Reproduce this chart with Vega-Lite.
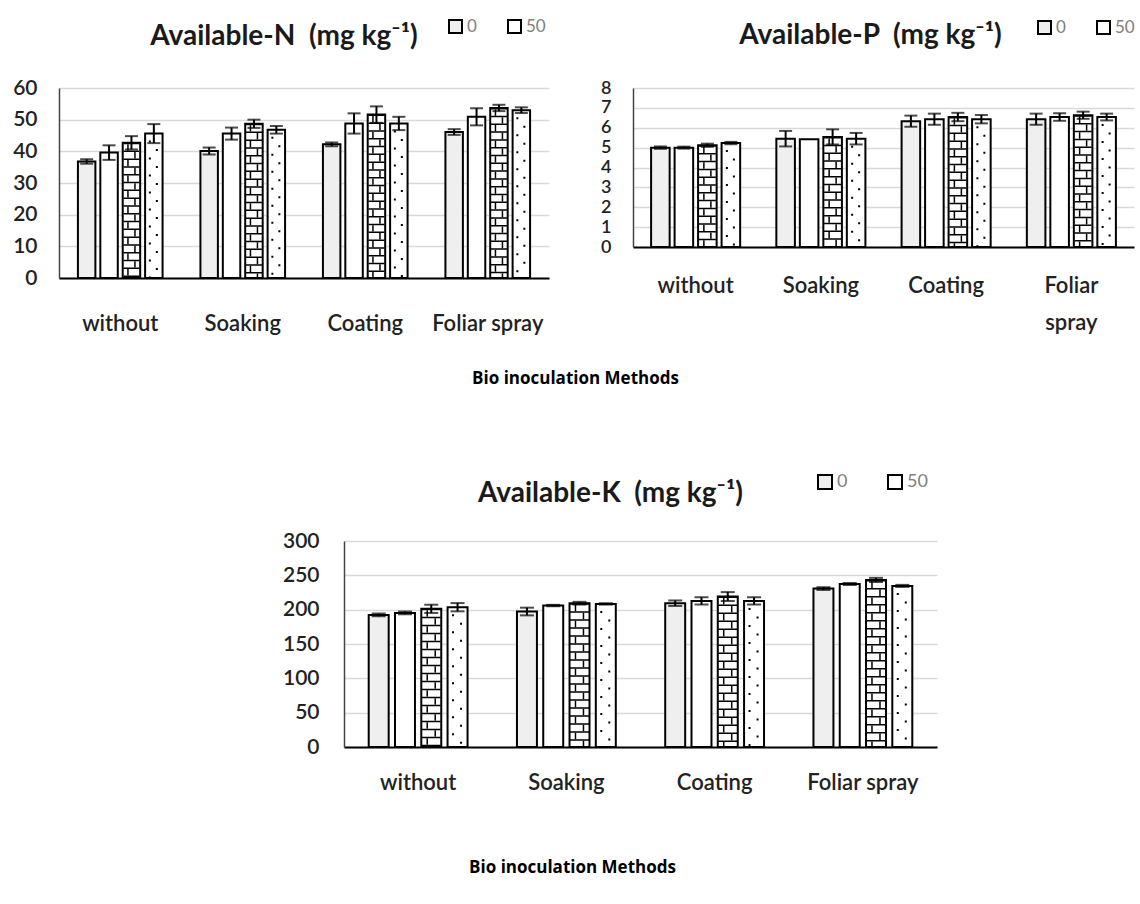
{
  "$schema": "https://vega.github.io/schema/vega-lite/v6.json",
  "background": "white",
  "padding": {"left": 12, "top": 18, "right": 0, "bottom": 30},
  "spacing": 453,
  "bounds": "flush",
  "config": {
    "view": {"stroke": null},
    "font": "Lato",
    "title": {"font": "Lato", "fontSize": 28, "fontWeight": "bold", "color": "#1a1a1a", "anchor": "middle"},
    "axis": {"labelFont": "Lato", "labelColor": "#222222", "labelFontWeight": 600, "ticks": false, "gridColor": "#d9d9d9", "gridWidth": 1.5, "labelOverlap": false, "labelFontSize": 21},
    "axisX": {"grid": false, "labelAngle": 0, "domainWidth": 2.2, "domainColor": "#000000", "labelBaseline": "top", "labelFontSize": 22, "labelLimit": 400,
      "titleFont": "Open Sans", "titleFontSize": 17, "titleFontWeight": "bold", "titleColor": "#000000", "titleBaseline": "middle", "titleAlign": "center"},
    "axisY": {"grid": true, "domainWidth": 1.5, "domainColor": "#444444", "labelBaseline": "middle"},
    "legend": {"orient": "none", "direction": "horizontal", "symbolType": "square", "symbolStrokeColor": "black", "symbolStrokeWidth": 2,
      "labelColor": "#808080", "labelFont": "Lato", "labelOffset": 3, "padding": 0}
  },
  "resolve": {"scale": {"fill": "independent", "x": "independent", "y": "independent", "xOffset": "independent"}, "legend": {"fill": "independent"}},
  "vconcat": [
    {
      "hconcat": [
        {
          "width": 490, "height": 190,
          "title": {"text": "Available-N\u00a0 (mg kg⁻¹)", "dx": -20, "offset": -33},
          "data": {"values": [
            {"method": "without", "treatment": "0", "value": 36.8, "err": 0.7},
            {"method": "without", "treatment": "50", "value": 39.6, "err": 2.3},
            {"method": "without", "treatment": "75", "value": 42.7, "err": 2.1},
            {"method": "without", "treatment": "100", "value": 45.6, "err": 3.0},
            {"method": "Soaking", "treatment": "0", "value": 40.1, "err": 1.1},
            {"method": "Soaking", "treatment": "50", "value": 45.6, "err": 1.9},
            {"method": "Soaking", "treatment": "75", "value": 48.7, "err": 1.3},
            {"method": "Soaking", "treatment": "100", "value": 46.8, "err": 1.2},
            {"method": "Coating", "treatment": "0", "value": 42.2, "err": 0.6},
            {"method": "Coating", "treatment": "50", "value": 48.8, "err": 3.2},
            {"method": "Coating", "treatment": "75", "value": 51.6, "err": 2.6},
            {"method": "Coating", "treatment": "100", "value": 48.8, "err": 2.1},
            {"method": "Foliar spray", "treatment": "0", "value": 46.1, "err": 0.9},
            {"method": "Foliar spray", "treatment": "50", "value": 50.9, "err": 2.7},
            {"method": "Foliar spray", "treatment": "75", "value": 53.7, "err": 1.0},
            {"method": "Foliar spray", "treatment": "100", "value": 53.0, "err": 0.9}
          ]},
          "encoding": {
            "x": {"field": "method", "type": "nominal", "sort": ["without", "Soaking", "Coating", "Foliar spray"],
              "scale": {"type": "band", "paddingInner": 0, "paddingOuter": 0},
              "axis": {"title": "Bio inoculation Methods", "titleX": 516, "titleY": 100, "labelPadding": 35}},
            "y": {"field": "value", "type": "quantitative", "title": null, "scale": {"domain": [0, 60]},
              "axis": {"values": [0, 10, 20, 30, 40, 50, 60], "labelPadding": 22}}
          },
          "layer": [
            {"mark": {"type": "bar", "stroke": "black", "strokeWidth": 2},
              "encoding": {
                "xOffset": {"field": "treatment", "type": "nominal", "sort": ["0", "50", "75", "100"],
                  "scale": {"domain": ["0", "50", "75", "100"], "paddingInner": 0.22, "paddingOuter": 0.845}},
                "fill": {"field": "treatment", "type": "nominal", "sort": ["0", "50", "75", "100"],
                  "scale": {"domain": ["0", "50", "75", "100"], "range": ["#efefef", "#ffffff", "#ffffff", "#ffffff"]},
                  "legend": {"title": null, "values": ["0", "50"], "legendX": 388, "legendY": -70, "symbolSize": 169, "labelFontSize": 17, "columnPadding": 27}}
              }},
            {"transform": [{"filter": "datum.treatment === '75'"}],
              "mark": {"type": "rule", "color": "black", "strokeWidth": 16, "strokeDash": [1.5, 6.3], "strokeCap": "butt", "xOffset": 11.2},
              "encoding": {"y2": {"datum": 0}}},
            {"transform": [{"filter": "datum.treatment === '75'"}],
              "mark": {"type": "rule", "color": "black", "strokeWidth": 1.5, "strokeDash": [6.3, 9.3], "strokeDashOffset": 14.1, "strokeCap": "butt", "xOffset": 7.7},
              "encoding": {"y2": {"datum": 0}}},
            {"transform": [{"filter": "datum.treatment === '75'"}],
              "mark": {"type": "rule", "color": "black", "strokeWidth": 1.5, "strokeDash": [6.3, 9.3], "strokeDashOffset": 6.3, "strokeCap": "butt", "xOffset": 14.7},
              "encoding": {"y2": {"datum": 0}}},
            {"transform": [{"filter": "datum.treatment === '100'"}],
              "mark": {"type": "rule", "color": "black", "strokeWidth": 2, "strokeDash": [2, 15], "strokeDashOffset": 10, "strokeCap": "butt", "xOffset": 29.6},
              "encoding": {"y2": {"datum": 0}}},
            {"transform": [{"filter": "datum.treatment === '100'"}],
              "mark": {"type": "rule", "color": "black", "strokeWidth": 2, "strokeDash": [2, 15], "strokeDashOffset": 1.5, "strokeCap": "butt", "xOffset": 36.6},
              "encoding": {"y2": {"datum": 0}}},
            {"transform": [{"filter": "datum.err > 0"}],
              "mark": {"type": "errorbar", "ticks": {"size": 13, "thickness": 2, "color": "black"}, "rule": {"strokeWidth": 2, "color": "black"}},
              "encoding": {
                "xOffset": {"field": "treatment", "type": "nominal", "sort": ["0", "50", "75", "100"]},
                "yError": {"field": "err"}}}
          ]
        },
        {
          "width": 501, "height": 159,
          "title": {"text": "Available-P\u00a0 (mg kg⁻¹)", "dx": -13, "offset": -31},
          "data": {"values": [
            {"method": "without", "treatment": "0", "value": 5.0, "err": 0.06},
            {"method": "without", "treatment": "50", "value": 5.0, "err": 0.05},
            {"method": "without", "treatment": "75", "value": 5.12, "err": 0.08},
            {"method": "without", "treatment": "100", "value": 5.23, "err": 0.06},
            {"method": "Soaking", "treatment": "0", "value": 5.45, "err": 0.39},
            {"method": "Soaking", "treatment": "50", "value": 5.42, "err": 0},
            {"method": "Soaking", "treatment": "75", "value": 5.54, "err": 0.38},
            {"method": "Soaking", "treatment": "100", "value": 5.45, "err": 0.29},
            {"method": "Coating", "treatment": "0", "value": 6.33, "err": 0.28},
            {"method": "Coating", "treatment": "50", "value": 6.43, "err": 0.28},
            {"method": "Coating", "treatment": "75", "value": 6.54, "err": 0.21},
            {"method": "Coating", "treatment": "100", "value": 6.43, "err": 0.21},
            {"method": "Foliar spray", "treatment": "0", "value": 6.43, "err": 0.28},
            {"method": "Foliar spray", "treatment": "50", "value": 6.54, "err": 0.19},
            {"method": "Foliar spray", "treatment": "75", "value": 6.63, "err": 0.18},
            {"method": "Foliar spray", "treatment": "100", "value": 6.54, "err": 0.17}
          ]},
          "encoding": {
            "x": {"field": "method", "type": "nominal", "sort": ["without", "Soaking", "Coating", "Foliar spray"],
              "scale": {"type": "band", "paddingInner": 0, "paddingOuter": 0},
              "axis": {"title": null, "labelPadding": 28, "labelLineHeight": 37,
                "labelExpr": "datum.label === 'Foliar spray' ? ['Foliar', 'spray'] : datum.label"}},
            "y": {"field": "value", "type": "quantitative", "title": null, "scale": {"domain": [0, 8]},
              "axis": {"values": [0, 1, 2, 3, 4, 5, 6, 7, 8], "labelPadding": 22, "labelFontSize": 18}}
          },
          "layer": [
            {"mark": {"type": "bar", "stroke": "black", "strokeWidth": 2},
              "encoding": {
                "xOffset": {"field": "treatment", "type": "nominal", "sort": ["0", "50", "75", "100"],
                  "scale": {"domain": ["0", "50", "75", "100"], "paddingInner": 0.21, "paddingOuter": 0.77}},
                "fill": {"field": "treatment", "type": "nominal", "sort": ["0", "50", "75", "100"],
                  "scale": {"domain": ["0", "50", "75", "100"], "range": ["#efefef", "#ffffff", "#ffffff", "#ffffff"]},
                  "legend": {"title": null, "values": ["0", "50"], "legendX": 403, "legendY": -69, "symbolSize": 169, "labelFontSize": 17, "columnPadding": 27}}
              }},
            {"transform": [{"filter": "datum.treatment === '75'"}],
              "mark": {"type": "rule", "color": "black", "strokeWidth": 17, "strokeDash": [1.5, 6.3], "strokeCap": "butt", "xOffset": 11.75},
              "encoding": {"y2": {"datum": 0}}},
            {"transform": [{"filter": "datum.treatment === '75'"}],
              "mark": {"type": "rule", "color": "black", "strokeWidth": 1.5, "strokeDash": [6.3, 9.3], "strokeDashOffset": 14.1, "strokeCap": "butt", "xOffset": 8.25},
              "encoding": {"y2": {"datum": 0}}},
            {"transform": [{"filter": "datum.treatment === '75'"}],
              "mark": {"type": "rule", "color": "black", "strokeWidth": 1.5, "strokeDash": [6.3, 9.3], "strokeDashOffset": 6.3, "strokeCap": "butt", "xOffset": 15.25},
              "encoding": {"y2": {"datum": 0}}},
            {"transform": [{"filter": "datum.treatment === '100'"}],
              "mark": {"type": "rule", "color": "black", "strokeWidth": 2, "strokeDash": [2, 15], "strokeDashOffset": 10, "strokeCap": "butt", "xOffset": 31.25},
              "encoding": {"y2": {"datum": 0}}},
            {"transform": [{"filter": "datum.treatment === '100'"}],
              "mark": {"type": "rule", "color": "black", "strokeWidth": 2, "strokeDash": [2, 15], "strokeDashOffset": 1.5, "strokeCap": "butt", "xOffset": 38.25},
              "encoding": {"y2": {"datum": 0}}},
            {"transform": [{"filter": "datum.err > 0"}],
              "mark": {"type": "errorbar", "ticks": {"size": 13, "thickness": 2, "color": "black"}, "rule": {"strokeWidth": 2, "color": "black"}},
              "encoding": {
                "xOffset": {"field": "treatment", "type": "nominal", "sort": ["0", "50", "75", "100"]},
                "yError": {"field": "err"}}}
          ]
        }
      ],
      "spacing": 84,
      "bounds": "flush",
      "resolve": {"scale": {"fill": "independent", "x": "independent", "y": "independent", "xOffset": "independent"}, "legend": {"fill": "independent"}}
    },
    {
      "hconcat": [
        {
          "width": 285, "height": 10,
          "data": {"values": [{"a": 1}]},
          "mark": {"type": "point", "opacity": 0},
          "encoding": {}
        },
        {
          "width": 593, "height": 206,
          "title": {"text": "Available-K\u00a0 (mg kg⁻¹)", "dx": -30, "offset": -35},
          "data": {"values": [
            {"method": "without", "treatment": "0", "value": 192.4, "err": 2},
            {"method": "without", "treatment": "50", "value": 195.3, "err": 2},
            {"method": "without", "treatment": "75", "value": 201.2, "err": 6},
            {"method": "without", "treatment": "100", "value": 203.6, "err": 6},
            {"method": "Soaking", "treatment": "0", "value": 197.3, "err": 5.6},
            {"method": "Soaking", "treatment": "50", "value": 206.0, "err": 1},
            {"method": "Soaking", "treatment": "75", "value": 209.4, "err": 2},
            {"method": "Soaking", "treatment": "100", "value": 208.4, "err": 1},
            {"method": "Coating", "treatment": "0", "value": 209.4, "err": 4},
            {"method": "Coating", "treatment": "50", "value": 212.8, "err": 5.3},
            {"method": "Coating", "treatment": "75", "value": 219.1, "err": 6.5},
            {"method": "Coating", "treatment": "100", "value": 212.8, "err": 5.3},
            {"method": "Foliar spray", "treatment": "0", "value": 230.7, "err": 2},
            {"method": "Foliar spray", "treatment": "50", "value": 237.5, "err": 1.5},
            {"method": "Foliar spray", "treatment": "75", "value": 243.3, "err": 3},
            {"method": "Foliar spray", "treatment": "100", "value": 234.6, "err": 1.5}
          ]},
          "encoding": {
            "x": {"field": "method", "type": "nominal", "sort": ["without", "Soaking", "Coating", "Foliar spray"],
              "scale": {"type": "band", "paddingInner": 0, "paddingOuter": 0},
              "axis": {"title": "Bio inoculation Methods", "titleX": 228, "titleY": 120, "labelPadding": 25}},
            "y": {"field": "value", "type": "quantitative", "title": null, "scale": {"domain": [0, 300]},
              "axis": {"values": [0, 50, 100, 150, 200, 250, 300], "labelPadding": 25}}
          },
          "layer": [
            {"mark": {"type": "bar", "stroke": "black", "strokeWidth": 2},
              "encoding": {
                "xOffset": {"field": "treatment", "type": "nominal", "sort": ["0", "50", "75", "100"],
                  "scale": {"domain": ["0", "50", "75", "100"], "paddingInner": 0.24, "paddingOuter": 0.94}},
                "fill": {"field": "treatment", "type": "nominal", "sort": ["0", "50", "75", "100"],
                  "scale": {"domain": ["0", "50", "75", "100"], "range": ["#efefef", "#ffffff", "#ffffff", "#ffffff"]},
                  "legend": {"title": null, "values": ["0", "50"], "legendX": 472, "legendY": -68, "symbolSize": 196, "labelFontSize": 18, "columnPadding": 36}}
              }},
            {"transform": [{"filter": "datum.treatment === '75'"}],
              "mark": {"type": "rule", "color": "black", "strokeWidth": 19, "strokeDash": [1.5, 6.5], "strokeCap": "butt", "xOffset": 13.1},
              "encoding": {"y2": {"datum": 0}}},
            {"transform": [{"filter": "datum.treatment === '75'"}],
              "mark": {"type": "rule", "color": "black", "strokeWidth": 1.5, "strokeDash": [6.5, 9.5], "strokeDashOffset": 14.5, "strokeCap": "butt", "xOffset": 9.1},
              "encoding": {"y2": {"datum": 0}}},
            {"transform": [{"filter": "datum.treatment === '75'"}],
              "mark": {"type": "rule", "color": "black", "strokeWidth": 1.5, "strokeDash": [6.5, 9.5], "strokeDashOffset": 6.5, "strokeCap": "butt", "xOffset": 17.1},
              "encoding": {"y2": {"datum": 0}}},
            {"transform": [{"filter": "datum.treatment === '100'"}],
              "mark": {"type": "rule", "color": "black", "strokeWidth": 2, "strokeDash": [2, 15], "strokeDashOffset": 10, "strokeCap": "butt", "xOffset": 34.9},
              "encoding": {"y2": {"datum": 0}}},
            {"transform": [{"filter": "datum.treatment === '100'"}],
              "mark": {"type": "rule", "color": "black", "strokeWidth": 2, "strokeDash": [2, 15], "strokeDashOffset": 1.5, "strokeCap": "butt", "xOffset": 42.9},
              "encoding": {"y2": {"datum": 0}}},
            {"transform": [{"filter": "datum.err > 0"}],
              "mark": {"type": "errorbar", "ticks": {"size": 14, "thickness": 2, "color": "black"}, "rule": {"strokeWidth": 2, "color": "black"}},
              "encoding": {
                "xOffset": {"field": "treatment", "type": "nominal", "sort": ["0", "50", "75", "100"]},
                "yError": {"field": "err"}}}
          ]
        }
      ],
      "spacing": 0,
      "bounds": "flush",
      "resolve": {"scale": {"fill": "independent", "x": "independent", "y": "independent", "xOffset": "independent"}, "legend": {"fill": "independent"}}
    }
  ]
}
